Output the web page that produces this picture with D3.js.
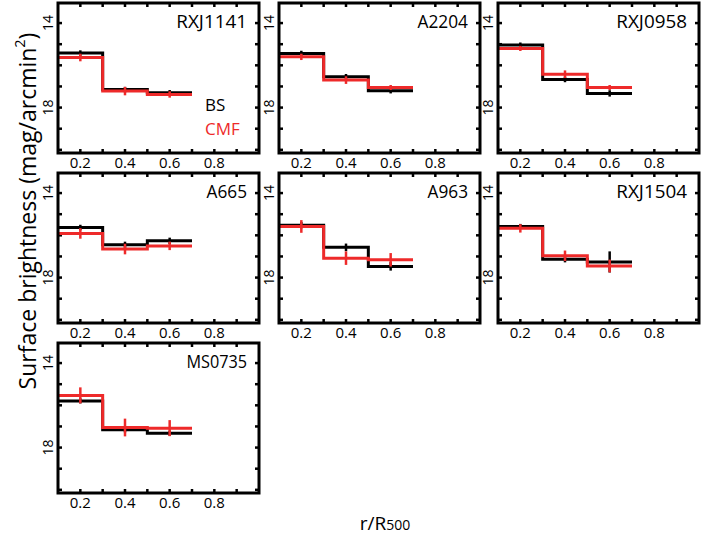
<!DOCTYPE html>
<html><head><meta charset="utf-8">
<script src="https://cdn.jsdelivr.net/npm/d3@7"></script>
<style>body{margin:0;background:#fff}text{font-family:"Open Sans","DejaVu Sans",sans-serif}</style>
</head><body><svg id="c" width="702" height="536"></svg>
<script>
const clusters = ["RXJ1141","A2204","RXJ0958","A665","A963","RXJ1504","MS0735"];
const binEdges = [0.1, 0.3, 0.5, 0.7];
const binCenters = [0.2, 0.4, 0.6];
const bsValues = [
  [15.42, 17.15, 17.30],
  [15.44, 16.54, 17.20],
  [15.04, 16.67, 17.33],
  [15.63, 16.45, 16.26],
  [15.52, 16.57, 17.47],
  [15.58, 17.13, 17.26],
  [15.79, 17.16, 17.32]
];
const bsErrors = [
  [0.13, 0.13, 0.13],
  [0.13, 0.13, 0.13],
  [0.12, 0.13, 0.15],
  [0.13, 0.15, 0.15],
  [0.15, 0.18, 0.2],
  [0.12, 0.15, 0.5],
  [0.12, 0.12, 0.12]
];
const cmfValues = [
  [15.63, 17.22, 17.38],
  [15.60, 16.70, 17.05],
  [15.20, 16.42, 17.05],
  [15.91, 16.65, 16.50],
  [15.58, 17.08, 17.16],
  [15.67, 16.97, 17.45],
  [15.53, 17.05, 17.08]
];
const cmfErrors = [
  [0.18, 0.2, 0.15],
  [0.15, 0.18, 0.12],
  [0.12, 0.18, 0.12],
  [0.25, 0.25, 0.2],
  [0.3, 0.32, 0.32],
  [0.2, 0.25, 0.3],
  [0.38, 0.42, 0.38]
];
const xTicks = [0.2, 0.4, 0.6, 0.8];
const yTicks = [14, 18];
const legendLabels = ["BS", "CMF"];
const colors = ["#000000", "#ee2a2a"];

const svg = d3.select("#c");
const colLeft = [58, 279, 498], rowTop = [3, 173, 343];
const W = 201, H = 150;
const x = d3.scaleLinear().domain([0.1, 1.0]).range([0, W]);
const y = d3.scaleLinear().domain([13.05, 20.15]).range([0, H]);

clusters.forEach((name, i) => {
  const g = svg.append("g").attr("transform", `translate(${colLeft[i%3]},${rowTop[Math.floor(i/3)]})`);
  const xt = d3.range(0.2, 0.95, 0.1);
  const yt = d3.range(14, 20.01, 1);
  xt.forEach(t => {
    g.append("line").attr("x1", x(t)).attr("x2", x(t)).attr("y1", 0).attr("y2", 4).attr("stroke","#000").attr("stroke-width",2.5);
    g.append("line").attr("x1", x(t)).attr("x2", x(t)).attr("y1", H).attr("y2", H-4).attr("stroke","#000").attr("stroke-width",2.5);
  });
  yt.forEach(t => {
    g.append("line").attr("x1", 0).attr("x2", 4).attr("y1", y(t)).attr("y2", y(t)).attr("stroke","#000").attr("stroke-width",2.5);
    g.append("line").attr("x1", W).attr("x2", W-4).attr("y1", y(t)).attr("y2", y(t)).attr("stroke","#000").attr("stroke-width",2.5);
  });
  xTicks.forEach(t => g.append("text").attr("x", x(t)).attr("y", H+15).attr("text-anchor","middle").attr("font-size",15).text(t));
  yTicks.forEach(t => g.append("text").attr("transform",`translate(-5,${y(t)}) rotate(-90)`).attr("text-anchor","middle").attr("font-size",14).text(t));
  const series = [[bsValues[i], bsErrors[i]], [cmfValues[i], cmfErrors[i]]];
  const line = d3.line().x(d => x(d[0])).y(d => y(d[1])).curve(d3.curveStepAfter);
  series.forEach(([vals, errs], s) => {
    const pts = binEdges.map((e, k) => [e, vals[Math.min(k, vals.length-1)]]);
    g.append("path").attr("d", line(pts)).attr("fill","none").attr("stroke", colors[s]).attr("stroke-width",3);
    binCenters.forEach((c, k) => {
      g.append("line").attr("x1", x(c)).attr("x2", x(c)).attr("y1", y(vals[k]-errs[k])).attr("y2", y(vals[k]+errs[k]))
        .attr("stroke", colors[s]).attr("stroke-width", 2.5);
    });
  });
  g.append("rect").attr("width", W).attr("height", H).attr("fill","none").attr("stroke","#000").attr("stroke-width",3);
  g.append("text").attr("x", W-12).attr("y", 25).attr("text-anchor","end").attr("font-size",18).attr("textLength", name.length*10.1).attr("lengthAdjust","spacingAndGlyphs").text(name);
  if (i === 0) {
    legendLabels.forEach((l, k) => g.append("text").attr("x", 147).attr("y", 108 + k*24).attr("font-size",17).attr("fill", colors[k]).text(l));
  }
});

// axis titles
const yTitle = svg.append("text").attr("text-anchor","middle").attr("font-size",24);
yTitle.append("tspan").text("Surface brightness (mag/arcmin");
yTitle.append("tspan").attr("font-size",15).attr("dy",-11).text("2");
yTitle.append("tspan").attr("dy",11).text(")");
const len = yTitle.node().getComputedTextLength();
yTitle.attr("transform", `translate(36,211) rotate(-90) scale(${357/len},1)`);
const xtt = svg.append("text").attr("x", 385).attr("y", 530).attr("text-anchor","middle").attr("font-size",19);
xtt.append("tspan").text("r/R");
xtt.append("tspan").attr("font-size",14).text("500");
</script></body></html>
